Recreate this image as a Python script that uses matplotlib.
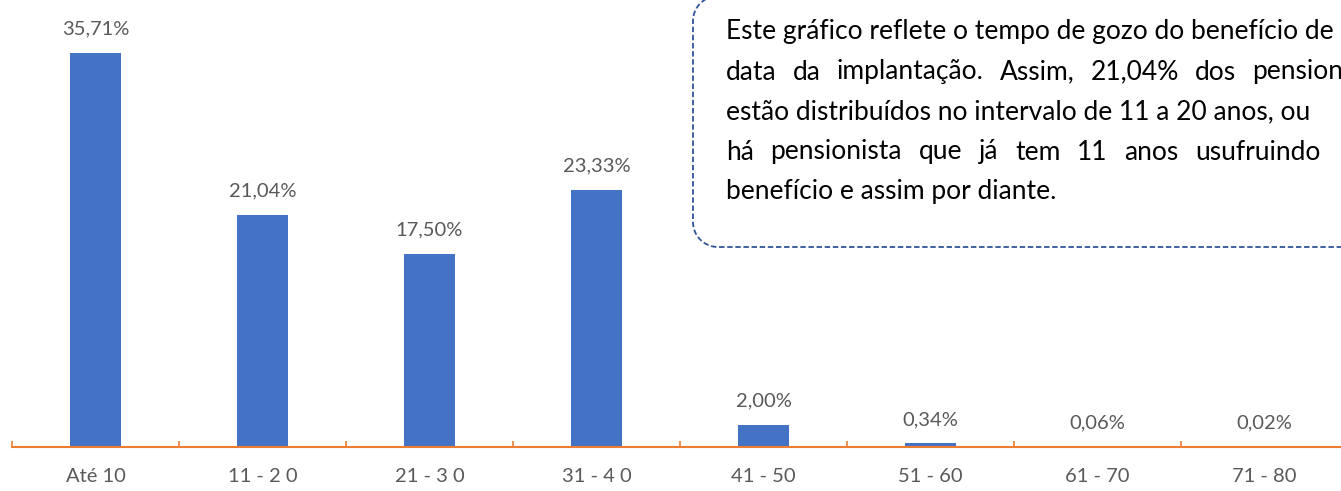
import numpy as np
import matplotlib.pyplot as plt
from matplotlib.lines import Line2D
from matplotlib.transforms import IdentityTransform

plt.rcParams['font.family'] = ['Lato', 'DejaVu Sans']

categories = ['Até 10', '11 - 2 0', '21 - 3 0', '31 - 4 0', '41 - 50', '51 - 60', '61 - 70', '71 - 80']
values = [35.71, 21.04, 17.50, 23.33, 2.00, 0.34, 0.06, 0.02]
labels = ['35,71%', '21,04%', '17,50%', '23,33%', '2,00%', '0,34%', '0,06%', '0,02%']

# text of the note; lines 2 and 4 are justified (last word starts at given pixel x)
note_lines = [
    ('Este gráfico reflete o tempo de gozo do benefício de', None),
    ('data da implantação. Assim, 21,04% dos pensionistas', 1252),
    ('estão distribuídos no intervalo de 11 a 20 anos, ou', None),
    ('há pensionista que já tem 11 anos usufruindo', 1195),
    ('benefício e assim por diante.', None),
]

W, H = 1341, 491
fig = plt.figure(figsize=(W / 100, H / 100), dpi=100)
ax = fig.add_axes([12 / W, 44 / H, 1336 / W, 447 / H])

x = range(len(categories))
ax.bar(x, values, width=0.31, color='#4472C4')
ax.set_xlim(-0.5, len(categories) - 0.5)
ax.set_ylim(0, 40.5)

for xi, v, lab in zip(x, values, labels):
    ax.annotate(lab, (xi, v), xytext=(0, 17), textcoords='offset points',
                ha='center', va='center', fontsize=14.5, color='#595959')

for s in ['top', 'left', 'right']:
    ax.spines[s].set_visible(False)
ax.spines['bottom'].set_color('#ED7D31')
ax.spines['bottom'].set_linewidth(1.5)
ax.set_yticks([])
ax.set_xticks(list(x))
ax.set_xticklabels(categories, fontsize=14.5, color='#595959')
ax.tick_params(axis='x', which='major', length=0, pad=15)
ax.set_xticks([i - 0.5 for i in range(len(categories) + 1)], minor=True)
ax.tick_params(axis='x', which='minor', direction='in', length=4.5, width=1.2, color='#ED7D31')

# dashed note box outline (left part only, the rest runs off the figure), pixel coords
left, top, bottom, r = 693, -4, 247, 25
t = np.linspace(0, np.pi / 2, 20)
bx = np.concatenate([[1400], left + r - r * np.sin(t), left + r - r * np.cos(t), [1400]])
by = np.concatenate([[bottom], bottom - r + r * np.cos(t), top + r - r * np.sin(t), [top]])
outline = Line2D(bx, H - by, transform=IdentityTransform(), color='#2F5597',
                 linestyle=(0, (3, 1.5)), linewidth=1.3)
fig.add_artist(outline)

renderer = fig.canvas.get_renderer()
note_size = 19
x0 = 726
for i, (line, last_x) in enumerate(note_lines):
    y = (H - (32 + 40 * i)) / H
    if last_x is None:
        fig.text(x0 / W, y, line, fontsize=note_size, color='#000000', va='center', ha='left')
        continue
    words = line.split(' ')
    objs = [fig.text(0, y, w, fontsize=note_size, color='#000000', va='center', ha='left') for w in words]
    widths = [t.get_window_extent(renderer).width for t in objs]
    gap = (last_x - x0 - sum(widths[:-1])) / (len(words) - 1)
    pos = x0
    for t, w in zip(objs, widths):
        t.set_x(pos / W)
        pos += w + gap

fig.savefig('out.png', dpi=100)
